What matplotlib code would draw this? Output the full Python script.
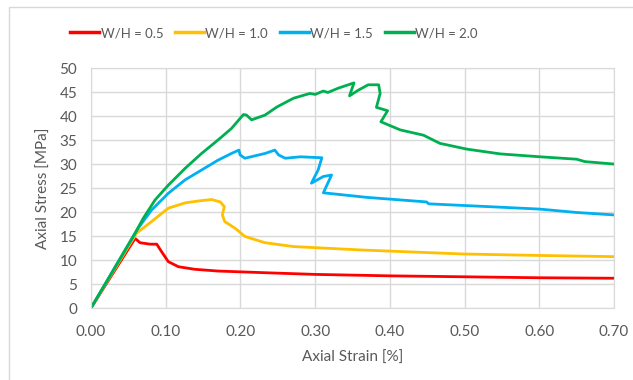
import matplotlib.pyplot as plt
from matplotlib.patches import Rectangle

plt.rcParams['font.family'] = ['Lato', 'DejaVu Sans']

labels = ["W/H = 0.5", "W/H = 1.0", "W/H = 1.5", "W/H = 2.0"]
colors = ["#FF0000", "#FFC000", "#00B0F0", "#00B050"]

red_x = [0.0, 0.059, 0.0656, 0.079, 0.088, 0.0946, 0.1035, 0.117, 0.139, 0.170, 0.233,
         0.30, 0.40, 0.50, 0.60, 0.70]
red_y = [0.0, 14.5, 13.6, 13.3, 13.3, 11.7, 9.65, 8.6, 8.06, 7.7, 7.35,
         7.0, 6.7, 6.5, 6.3, 6.2]

yellow_x = [0.0, 0.061, 0.081, 0.1035, 0.126, 0.1437, 0.1615, 0.173, 0.1785, 0.1758, 0.179,
            0.193, 0.206, 0.233, 0.271, 0.36, 0.498, 0.60, 0.70]
yellow_y = [0.0, 15.6, 18.0, 20.8, 21.9, 22.3, 22.6, 22.1, 21.1, 19.4, 18.0,
            16.6, 14.9, 13.6, 12.8, 12.1, 11.25, 10.95, 10.7]

blue_x = [0.0, 0.063, 0.081, 0.1035, 0.126, 0.148, 0.170, 0.188, 0.198, 0.1995, 0.206, 0.233,
          0.246, 0.251, 0.260, 0.280, 0.309, 0.304, 0.295, 0.311, 0.322, 0.311, 0.369,
          0.449, 0.452, 0.548, 0.601, 0.650, 0.699]
blue_y = [0.0, 16.6, 20.4, 23.9, 26.7, 28.75, 30.8, 32.2, 32.9, 31.9, 31.2, 32.2,
          32.9, 31.9, 31.2, 31.5, 31.3, 28.75, 26.0, 27.4, 27.7, 24.0, 23.05,
          22.1, 21.7, 21.0, 20.6, 19.9, 19.4]

green_x = [0.0, 0.059, 0.070, 0.0857, 0.1035, 0.126, 0.148, 0.170, 0.188, 0.204, 0.208, 0.215,
           0.233, 0.249, 0.271, 0.293, 0.300, 0.311, 0.317, 0.331, 0.352, 0.346, 0.358, 0.371,
           0.385, 0.387, 0.382, 0.397, 0.388, 0.414, 0.445, 0.467, 0.503, 0.548, 0.601,
           0.650, 0.661, 0.699]
green_y = [0.0, 15.6, 18.7, 22.5, 25.6, 29.1, 32.2, 35.0, 37.4, 40.3, 40.2, 39.2,
           40.2, 41.9, 43.7, 44.7, 44.5, 45.2, 44.9, 45.8, 46.9, 44.2, 45.4, 46.5,
           46.5, 44.7, 41.8, 41.1, 38.8, 37.1, 36.0, 34.3, 33.1, 32.1, 31.5,
           31.0, 30.5, 30.0]

series = [(red_x, red_y), (yellow_x, yellow_y), (blue_x, blue_y), (green_x, green_y)]

x_ticks = [0.0, 0.1, 0.2, 0.3, 0.4, 0.5, 0.6, 0.7]
y_ticks = [0, 5, 10, 15, 20, 25, 30, 35, 40, 45, 50]

text_color = "#595959"
grid_color = "#D9D9D9"

fig = plt.figure(figsize=(6.33, 3.8), dpi=100)
fig.patches.append(Rectangle((9 / 633, -0.1), 1.2, 1 - 7 / 380 + 0.1, transform=fig.transFigure,
                             fill=False, edgecolor="#D9D9D9", linewidth=1.0))
ax = fig.add_axes([91 / 633, 1 - 308 / 380, (614 - 91) / 633, 240 / 380])

for (xs, ys), c, lab in zip(series, colors, labels):
    ax.plot(xs, ys, color=c, linewidth=2.0, label=lab, solid_joinstyle="round")

ax.set_xlim(0, 0.7)
ax.set_ylim(0, 50)
ax.set_xticks(x_ticks)
ax.set_xticklabels([f"{v:.2f}" for v in x_ticks])
ax.set_yticks(y_ticks)
ax.grid(True, color=grid_color, linewidth=1.0)
ax.set_axisbelow(True)
for s in ax.spines.values():
    s.set_color(grid_color)
ax.tick_params(length=0, colors=text_color, labelsize=11)
ax.tick_params(axis="x", pad=12)
ax.tick_params(axis="y", pad=10)
ax.set_xlabel("Axial Strain [%]", color=text_color, fontsize=11, labelpad=9)
ax.set_ylabel("Axial Stress [MPa]", color=text_color, fontsize=11, labelpad=6)

# legend laid out like the Excel one: short handles, tight text
leg = fig.legend(loc="center", bbox_to_anchor=(274 / 633, 1 - 33 / 380), ncol=4, frameon=False,
                 fontsize=9.5, handlelength=2.2, handletextpad=0.1, columnspacing=0.9)
for t in leg.get_texts():
    t.set_color(text_color)
for h in leg.legend_handles:
    h.set_linewidth(2.5)

fig.savefig("out.png", dpi=100)
